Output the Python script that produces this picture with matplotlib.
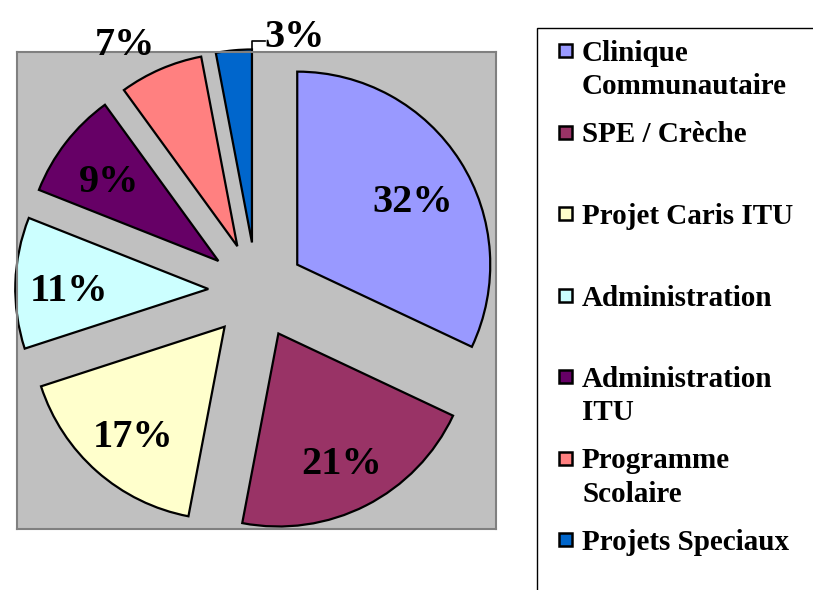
import numpy as np
import matplotlib
matplotlib.use("Agg")
import matplotlib.pyplot as plt
from matplotlib.patches import Rectangle
from matplotlib.lines import Line2D

plt.rcParams['font.family'] = ['Liberation Serif', 'DejaVu Serif']
plt.rcParams['font.weight'] = 'bold'

# data
categories = ['Clinique\nCommunautaire', 'SPE / Crèche', 'Projet Caris ITU',
              'Administration', 'Administration\nITU', 'Programme\nScolaire',
              'Projets Speciaux']
shares = [32, 21, 17, 11, 9, 7, 3]
colors = ['#9999ff', '#993366', '#ffffcc', '#ccffff', '#660066', '#ff8080', '#0066cc']

W, H = 813, 590
fig = plt.figure(figsize=(W / 100, H / 100), dpi=100)

# gray plot area (pixel box 17..496 x 52..529)
ax = fig.add_axes([17 / W, 1 - 529 / H, 479 / W, 477 / H])
ax.set_facecolor('#c0c0c0')

wedges, texts, autotexts = ax.pie(
    shares, colors=colors, startangle=90, counterclock=False,
    explode=[0.25] * len(shares),
    autopct='%1.0f%%', pctdistance=0.72,
    wedgeprops=dict(edgecolor='black', linewidth=1.6),
    textprops=dict(fontsize=29, fontweight='bold', color='black'))

ax.set_frame_on(True)
ax.set_aspect('auto')
r_px = 193.0
ax.set_xlim(-239.5 / r_px, 239.5 / r_px)
ax.set_ylim(-238.5 / r_px, 238.5 / r_px)
for sp in ax.spines.values():
    sp.set_color('#808080')
    sp.set_linewidth(1.5)

# nudge in-slice labels slightly down, like the original
for t in autotexts[:5]:
    x, y = t.get_position()
    t.set_position((x, y - 0.035))
x, y = autotexts[0].get_position()
autotexts[0].set_position((x - 0.01, y - 0.03))

# small slices: labels sit outside the plot area
autotexts[5].set_position((-0.68, 1.27))
autotexts[5].set_clip_on(False)

w = wedges[6]
cx, cy = w.center
x0, y0 = cx, cy + w.r
ax.add_line(Line2D([x0, x0, x0 + 0.07], [y0, y0 + 0.045, y0 + 0.045],
                   color='black', linewidth=1.2, clip_on=False))
autotexts[6].set_position((x0 + 0.065, y0 + 0.06))
autotexts[6].set_ha('left')
autotexts[6].set_clip_on(False)

# legend box, running off the right and bottom edges
fig.add_artist(Rectangle((537 / W, -0.1), 0.6, 1 - 28 / H + 0.1,
                         transform=fig.transFigure, facecolor='white',
                         edgecolor='black', linewidth=1.0, clip_on=False))

base0, step, line_gap = 61, 81.5, 33
for i, (lab, col) in enumerate(zip(categories, colors)):
    yb = base0 + i * step
    fig.add_artist(Rectangle((559 / W, 1 - (yb - 4) / H), 13 / W, 13 / H,
                             transform=fig.transFigure, facecolor=col,
                             edgecolor='black', linewidth=1.8))
    for j, line in enumerate(lab.split('\n')):
        fig.text(582 / W, 1 - (yb + j * line_gap) / H, line, fontsize=21,
                 fontweight='bold', va='baseline', ha='left')

fig.savefig('out.png', dpi=100)
